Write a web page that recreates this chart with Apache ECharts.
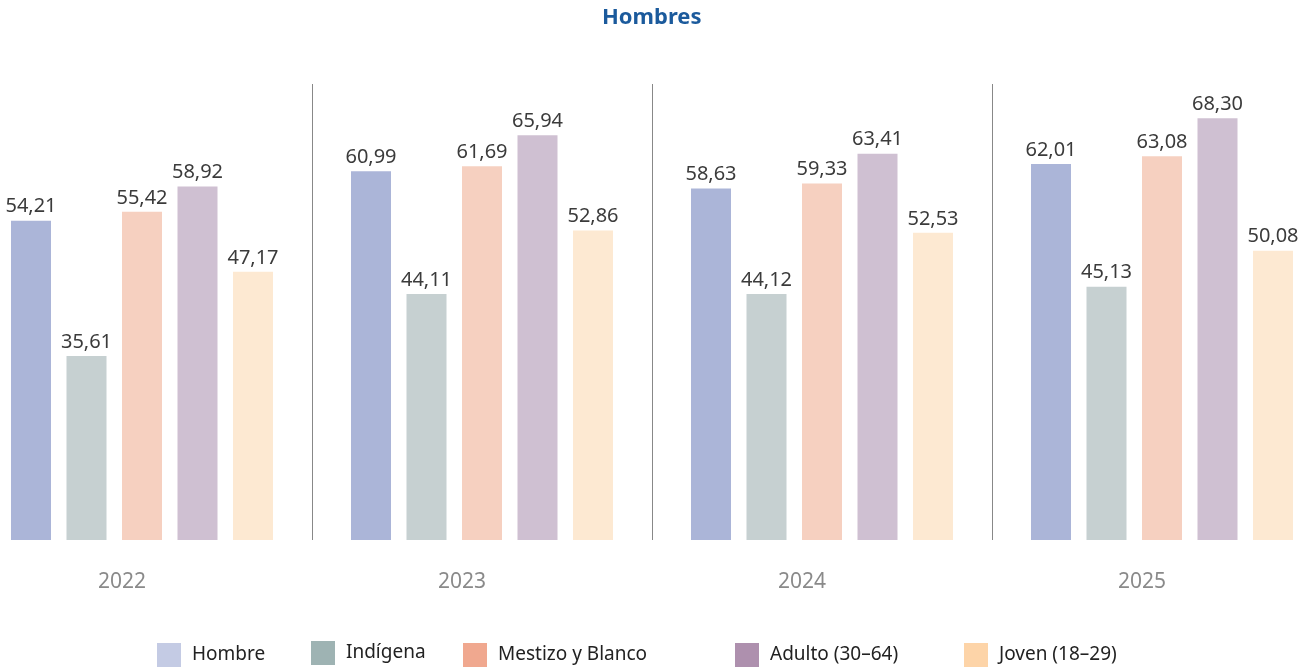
<!DOCTYPE html>
<html>
<head>
<meta charset="utf-8">
<script src="https://cdn.jsdelivr.net/npm/echarts@6/dist/echarts.min.js"></script>
<style>
  html, body { margin: 0; padding: 0; background: #fff; }
  #main { width: 1316px; height: 671px; }
</style>
</head>
<body>
<div id="main"></div>
<script>
var years = ['2022', '2023', '2024', '2025'];
var seriesNames = ['Hombre', 'Indígena', 'Mestizo y Blanco', 'Adulto (30\u201364)', 'Joven (18\u201329)'];
var hombre = [54.21, 60.99, 58.63, 62.01];
var indigena = [35.61, 44.11, 44.12, 45.13];
var mestizo = [55.42, 61.69, 59.33, 63.08];
var adulto = [58.92, 65.94, 63.41, 68.30];
var joven = [47.17, 52.86, 52.53, 50.08];

var values = [hombre, indigena, mestizo, adulto, joven];
var barColors = ['#abb5d8', '#c6d0d1', '#f6d0c0', '#cfc0d2', '#fde9d2'];
var legendColors = ['#c4cbe4', '#9eb3b3', '#f0a88f', '#ae90ae', '#fdd4a8'];
var legendLeft = [157, 311, 463, 735, 964];
var legendTop = [643, 641, 643, 643, 643];

var font = 'Noto Sans';

var series = seriesNames.map(function (name, i) {
    return {
        name: name,
        type: 'bar',
        data: values[i],
        barWidth: 40,
        barGap: '38.75%',
        itemStyle: { color: barColors[i] },
        label: {
            show: true,
            position: 'top',
            distance: 4,
            fontFamily: font,
            fontSize: 20,
            color: '#3b3b3b',
            formatter: function (p) {
                return p.value.toFixed(2).replace('.', ',');
            }
        }
    };
});

var legends = seriesNames.map(function (name, i) {
    return {
        left: legendLeft[i],
        top: legendTop[i],
        padding: 0,
        itemWidth: 24,
        itemHeight: 24,
        icon: 'rect',
        selectedMode: false,
        data: [{ name: name, itemStyle: { color: legendColors[i] } }],
        textStyle: {
            fontFamily: font,
            fontSize: 19,
            color: '#222',
            padding: [3, 0, 0, 6]
        }
    };
});

var myChart = echarts.init(document.getElementById('main'));
myChart.setOption({
    backgroundColor: '#fff',
    animation: false,
    title: {
        text: 'Hombres',
        left: 597,
        top: 2,
        textStyle: {
            fontFamily: font,
            fontSize: 22,
            fontWeight: 'bold',
            color: '#1b5a9c'
        }
    },
    legend: legends,
    grid: {
        left: -28,
        width: 1360,
        top: 84,
        height: 456,
        outerBoundsMode: 'none'
    },
    xAxis: {
        type: 'category',
        data: years,
        axisLine: { show: false },
        axisTick: { show: false },
        splitLine: {
            show: true,
            interval: 0,
            lineStyle: { color: '#888', width: 1 }
        },
        axisLabel: {
            fontFamily: font,
            fontSize: 21,
            color: '#8a8a8a',
            margin: 32,
            padding: [0, 40, 0, 0]
        }
    },
    yAxis: {
        type: 'value',
        min: 10.3,
        max: 73,
        show: false
    },
    series: series
});
</script>
</body>
</html>
